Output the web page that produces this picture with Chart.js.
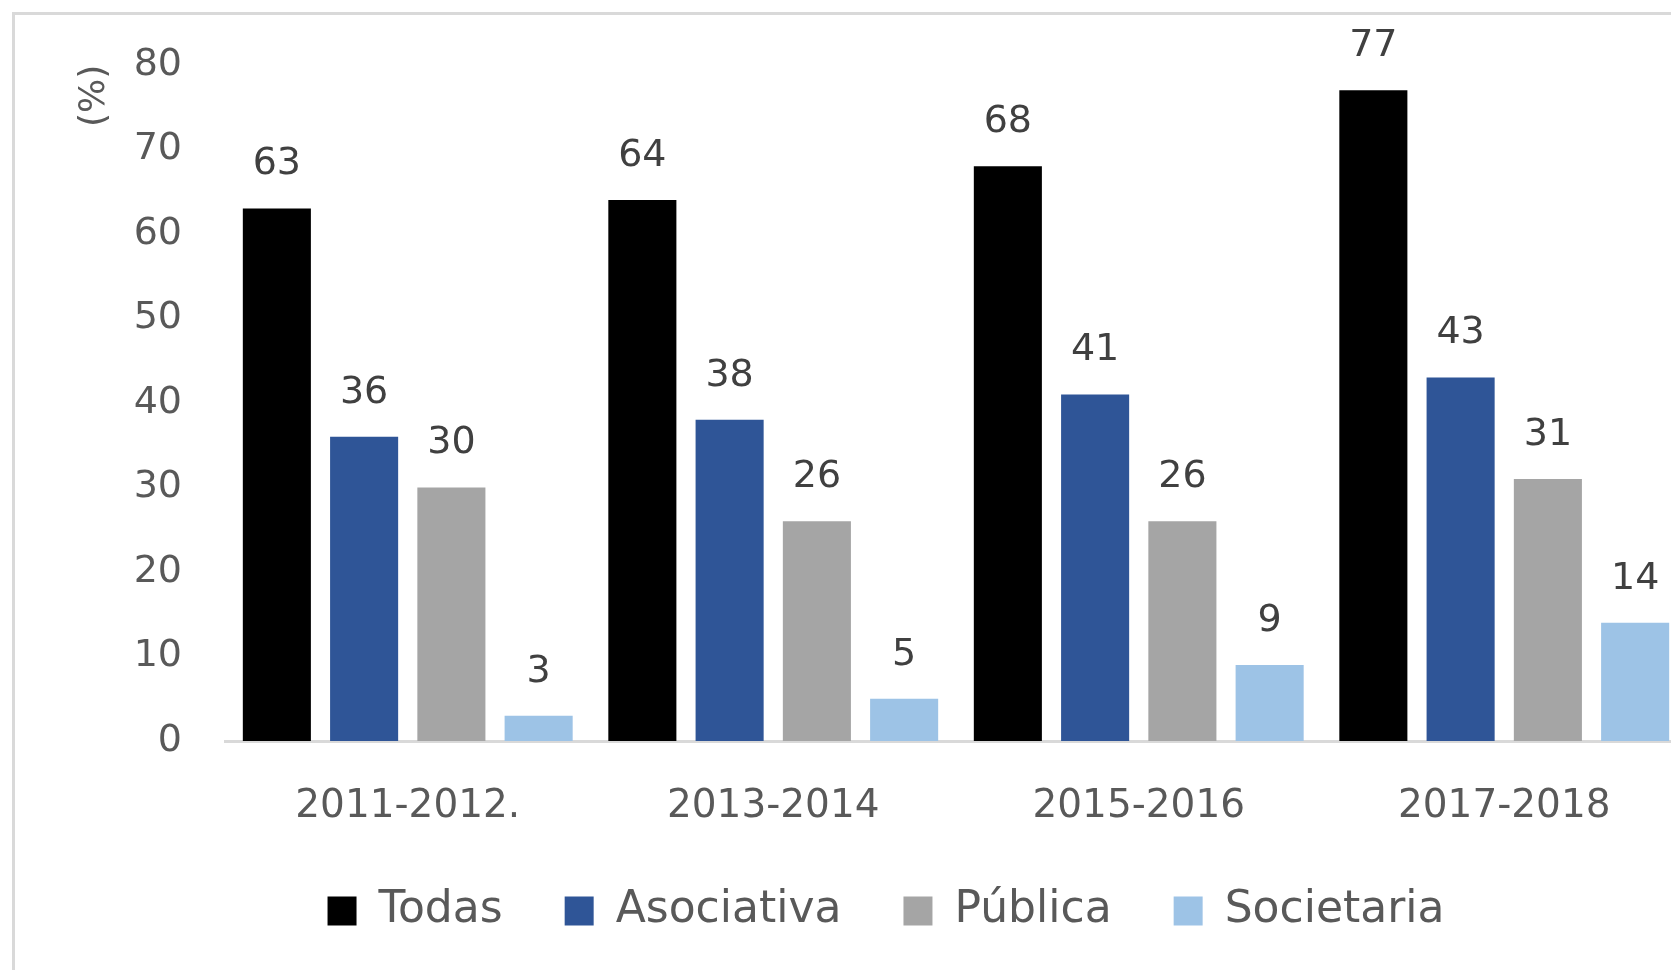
<!DOCTYPE html>
<html>
<head>
<meta charset="utf-8">
<script src="https://cdn.jsdelivr.net/npm/chart.js@4.4.1/dist/chart.umd.min.js"></script>
<style>
  html, body { margin: 0; padding: 0; background: #fff; overflow: hidden; }
  .frame {
    position: absolute; left: 12px; top: 12px;
    width: 1800px; height: 1100px;
    border-left: 3px solid #d9d9d9; border-top: 3px solid #d9d9d9;
  }
  #grafico { position: absolute; left: 15px; top: -1px; }
</style>
</head>
<body>
<div class="frame"></div>
<canvas id="grafico" width="1730" height="971"></canvas>

<script>
// periodos
var periodos = ['2011-2012.', '2013-2014', '2015-2016', '2017-2018'];

// valores (%)
var todas = [63, 64, 68, 77];
var asociativa = [36, 38, 41, 43];
var publica = [30, 26, 26, 31];
var societaria = [3, 5, 9, 14];

var yTicks = [0, 10, 20, 30, 40, 50, 60, 70, 80];

var fuente = 'DejaVu Sans';

// etiquetas encima de cada barra
var etiquetasPlugin = {
  id: 'etiquetas',
  afterDatasetsDraw: function(chart) {
    var ctx = chart.ctx;
    ctx.save();
    ctx.font = '38px "' + fuente + '"';
    ctx.fillStyle = '#404040';
    ctx.textAlign = 'center';
    ctx.textBaseline = 'middle';
    chart.data.datasets.forEach(function(ds, i) {
      var meta = chart.getDatasetMeta(i);
      meta.data.forEach(function(bar, j) {
        ctx.fillText(ds.data[j], bar.x, bar.y - 44);
      });
    });
    ctx.restore();
  }
};

var ctx = document.getElementById('grafico');

new Chart(ctx, {
  type: 'bar',
  data: {
    labels: periodos,
    datasets: [
      { label: 'Todas', data: todas, backgroundColor: '#000000' },
      { label: 'Asociativa', data: asociativa, backgroundColor: '#2f5597' },
      { label: 'Pública', data: publica, backgroundColor: '#a5a5a5' },
      { label: 'Societaria', data: societaria, backgroundColor: '#9dc3e6' }
    ]
  },
  options: {
    responsive: false,
    animation: false,
    categoryPercentage: 0.955,
    barPercentage: 0.78,
    layout: {
      padding: { left: 70, right: 58, top: 30, bottom: 27 }
    },
    plugins: {
      tooltip: { enabled: false },
      legend: {
        position: 'bottom',
        labels: {
          boxWidth: 29,
          boxHeight: 29,
          padding: 62,
          color: '#595959',
          font: { family: fuente, size: 44 }
        }
      }
    },
    scales: {
      x: {
        grid: { display: false, drawTicks: false },
        border: { display: true, color: '#d9d9d9', width: 3 },
        ticks: {
          color: '#595959',
          padding: 42,
          font: { family: fuente, size: 39 }
        },
        afterFit: function(axis) { axis.height = 86; }
      },
      y: {
        min: 0,
        max: 80,
        grid: { display: false, drawTicks: false },
        border: { display: false },
        afterBuildTicks: function(axis) {
          axis.ticks = yTicks.map(function(v) { return { value: v }; });
        },
        ticks: {
          color: '#595959',
          padding: 43,
          font: { family: fuente, size: 38 }
        },
        title: {
          display: true,
          text: '(%)',
          align: 'end',
          color: '#595959',
          padding: { top: -8, bottom: 0 },
          font: { family: fuente, size: 36, lineHeight: 1 }
        },
        afterFit: function(axis) { axis.width = 140; }
      }
    }
  },
  plugins: [etiquetasPlugin]
});
</script>
</body>
</html>
